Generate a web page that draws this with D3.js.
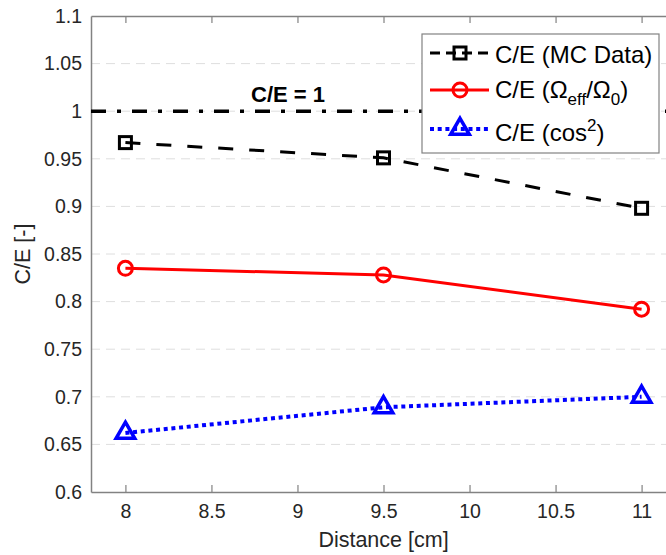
<!DOCTYPE html>
<html>
<head>
<meta charset="utf-8" />
<title>C/E vs distance</title>
<style>
  body { margin: 0; background: #fff; }
  svg text { font-family: "Liberation Sans", Arial, sans-serif; }
</style>
<script src="https://d3js.org/d3.v7.min.js"></script>
</head>
<body>
<svg id="chart" width="666" height="555"></svg>
<script>
// data
const distances = [8, 9.5, 11];
const mcData = [0.967, 0.951, 0.898];
const omegaRatio = [0.835, 0.828, 0.792];
const cosSquared = [0.662, 0.689, 0.700];
const xTicks = [8, 8.5, 9, 9.5, 10, 10.5, 11];
const yTicks = [0.6, 0.65, 0.7, 0.75, 0.8, 0.85, 0.9, 0.95, 1, 1.05, 1.1];
const refValue = 1;

const svg = d3.select("#chart");
const mLeft = 91, mRight = 676, mTop = 16, mBottom = 492;

const x = d3.scaleLinear().domain([7.8, 11.2]).range([mLeft, mRight]);
const y = d3.scaleLinear().domain([0.6, 1.1]).range([mBottom, mTop]);

const axisCol = "#828282", textCol = "#262626";

// horizontal grid
svg.append("g")
  .selectAll("line")
  .data(yTicks.slice(1, -1))
  .join("line")
  .attr("x1", mLeft).attr("x2", mRight)
  .attr("y1", d => y(d)).attr("y2", d => y(d))
  .attr("stroke", "#dedede")
  .attr("stroke-width", 1)
  .attr("stroke-dasharray", "9,6");

// axes (MATLAB style ticks inside)
const xAxis = svg.append("g")
  .attr("transform", `translate(0,${mBottom})`)
  .call(d3.axisBottom(x).tickValues(xTicks).tickSizeInner(-7).tickSizeOuter(0).tickPadding(12).tickFormat(d3.format("")));
const xTop = svg.append("g")
  .attr("transform", `translate(0,${mTop})`)
  .call(d3.axisTop(x).tickValues(xTicks).tickSizeInner(-7).tickSizeOuter(0).tickFormat(""));
const yAxis = svg.append("g")
  .attr("transform", `translate(${mLeft},0)`)
  .call(d3.axisLeft(y).tickValues(yTicks).tickSizeInner(0).tickSizeOuter(0).tickPadding(9).tickFormat(d3.format("")));

[xAxis, xTop, yAxis].forEach(g => {
  g.select(".domain").attr("stroke", axisCol).attr("stroke-width", 1.5);
  g.selectAll(".tick line").attr("stroke", axisCol).attr("stroke-width", 1.2);
  g.selectAll(".tick text").attr("fill", textCol).style("font-size", "19.5px");
});

// axis titles
svg.append("text")
  .attr("x", x(9.5)).attr("y", 547)
  .attr("text-anchor", "middle")
  .attr("fill", textCol)
  .style("font-size", "21.5px")
  .text("Distance [cm]");
svg.append("text")
  .attr("transform", `translate(30,${y(0.85)}) rotate(-90)`)
  .attr("text-anchor", "middle")
  .attr("fill", textCol)
  .style("font-size", "21.5px")
  .text("C/E [-]");

// reference line C/E = 1
svg.append("line")
  .attr("x1", mLeft).attr("x2", mRight)
  .attr("y1", y(refValue)).attr("y2", y(refValue))
  .attr("stroke", "#000")
  .attr("stroke-width", 3.5)
  .attr("stroke-dasharray", "15,11,4,11");
svg.append("text")
  .attr("x", 288).attr("y", 102)
  .attr("text-anchor", "middle")
  .attr("fill", "#000")
  .style("font-size", "22px")
  .style("font-weight", "bold")
  .text("C/E = 1");

const series = [
  { vals: mcData, color: "#000", dash: "15,16", width: 3, marker: "square" },
  { vals: omegaRatio, color: "#ff0000", dash: null, width: 3, marker: "circle" },
  { vals: cosSquared, color: "#0000ff", dash: "4,3.7", width: 4, marker: "triangle" }
];

const line = d3.line().x(d => x(d[0])).y(d => y(d[1]));

function drawMarker(g, type, cx, cy, color) {
  if (type === "square") {
    g.append("rect").attr("x", cx - 6).attr("y", cy - 6).attr("width", 12).attr("height", 12)
      .attr("fill", "none").attr("stroke", color).attr("stroke-width", 3);
  } else if (type === "circle") {
    g.append("circle").attr("cx", cx).attr("cy", cy).attr("r", 7)
      .attr("fill", "none").attr("stroke", color).attr("stroke-width", 3);
  } else {
    g.append("path")
      .attr("d", d3.symbol().type(d3.symbolTriangle).size(150)())
      .attr("transform", `translate(${cx},${cy})`)
      .attr("fill", "none").attr("stroke", color).attr("stroke-width", 3.5);
  }
}

series.forEach(s => {
  const pts = distances.map((d, i) => [d, s.vals[i]]);
  svg.append("path")
    .datum(pts)
    .attr("d", line)
    .attr("fill", "none")
    .attr("stroke", s.color)
    .attr("stroke-width", s.width)
    .attr("stroke-dasharray", s.dash);
  const mg = svg.append("g");
  pts.forEach(p => drawMarker(mg, s.marker, x(p[0]), y(p[1]), s.color));
});

// legend
const lg = svg.append("g").attr("transform", "translate(422,34)");
lg.append("rect").attr("width", 237).attr("height", 119)
  .attr("fill", "#fff").attr("stroke", "#828282").attr("stroke-width", 1.2);
const rows = [19, 56, 95];
const legendDash = ["10,6", null, "4,3.7"];
series.forEach((s, i) => {
  const ry = rows[i];
  lg.append("line").attr("x1", 8).attr("x2", 67).attr("y1", ry).attr("y2", ry)
    .attr("stroke", s.color).attr("stroke-width", s.width).attr("stroke-dasharray", legendDash[i]);
  drawMarker(lg, s.marker, 38, ry, s.color);
});
const lt = lg.append("g").attr("fill", "#000").style("font-size", "24px");
lt.append("text").attr("x", 73).attr("y", rows[0] + 10).text("C/E (MC Data)");
const t2 = lt.append("text").attr("x", 73).attr("y", rows[1] + 8);
t2.append("tspan").text("C/E (Ω");
t2.append("tspan").attr("dy", 7).style("font-size", "17px").text("eff");
t2.append("tspan").attr("dy", -7).text("/Ω");
t2.append("tspan").attr("dy", 7).style("font-size", "17px").text("0");
t2.append("tspan").attr("dy", -7).text(")");
const t3 = lt.append("text").attr("x", 73).attr("y", rows[2] + 12);
t3.append("tspan").text("C/E (cos");
t3.append("tspan").attr("dy", -10).style("font-size", "17px").text("2");
t3.append("tspan").attr("dy", 10).text(")");
</script>
</body>
</html>
